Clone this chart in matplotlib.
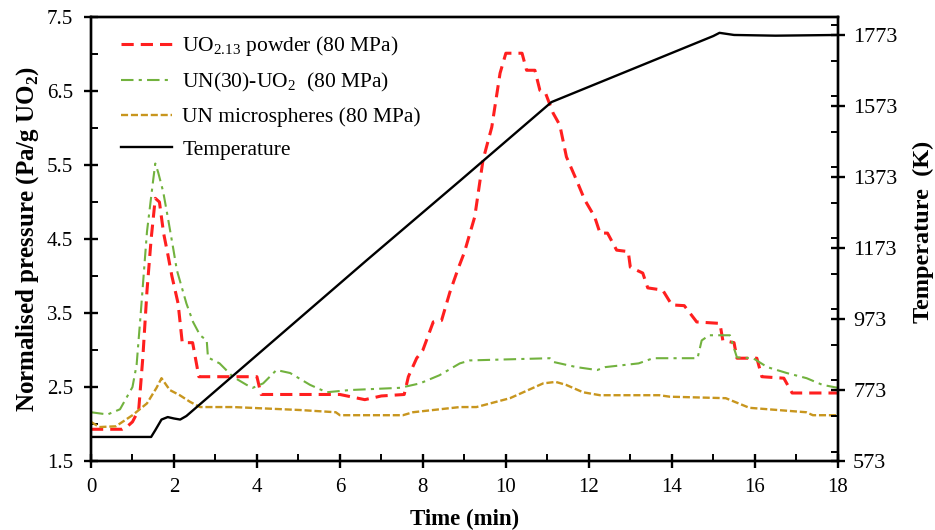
import numpy as np
import matplotlib
matplotlib.use("Agg")
import matplotlib.pyplot as plt
from matplotlib.ticker import MultipleLocator
from matplotlib.lines import Line2D

plt.rcParams['font.family'] = ['Liberation Serif', 'DejaVu Serif']
plt.rcParams['mathtext.fontset'] = 'custom'
plt.rcParams['mathtext.rm'] = 'Liberation Serif'
plt.rcParams['mathtext.bf'] = 'Liberation Serif:bold'

# UO2.13 powder (80 MPa)
t_uo2 = [0, 0.75, 0.9, 1.0, 1.15, 1.25, 1.35, 1.45, 1.55, 1.65, 1.75, 1.85, 1.95, 2.1, 2.2, 2.45, 2.6, 4.0, 4.1,
         6.0, 6.6, 7.0, 7.55, 7.65, 7.85, 8.0, 8.25, 8.45, 8.65, 8.85, 9.0, 9.25, 9.45, 9.66, 9.86, 10.0, 10.39,
         10.5, 10.7, 10.82, 10.95, 11.14, 11.3, 11.46, 11.7, 11.9, 12.14, 12.27, 12.45, 12.67, 12.95, 13.0, 13.3,
         13.42, 13.78, 14.0, 14.3, 14.6, 15.16, 15.23, 15.5, 15.57, 16.05, 16.17, 16.7, 16.9, 18]
p_uo2 = [1.93, 1.93, 1.98, 2.03, 2.19, 2.9, 3.8, 4.5, 5.05, 5.0, 4.58, 4.3, 4.0, 3.63, 3.1, 3.1, 2.64, 2.64, 2.4,
         2.4, 2.33, 2.38, 2.4, 2.64, 2.89, 3.0, 3.38, 3.4, 3.78, 4.1, 4.32, 4.8, 5.57, 6.01, 6.74, 7.01, 7.01,
         6.78, 6.78, 6.51, 6.48, 6.2, 6.04, 5.61, 5.3, 5.03, 4.8, 4.58, 4.58, 4.35, 4.33, 4.12, 4.04,
         3.84, 3.81, 3.61, 3.6, 3.38, 3.36, 3.13, 3.1, 2.89, 2.89, 2.64, 2.62, 2.42, 2.42]

# UN(30)-UO2 (80 MPa)
t_un30 = [0, 0.4, 0.7, 1.0, 1.1, 1.2, 1.35, 1.5, 1.55, 1.62, 1.74, 1.85, 1.98, 2.07, 2.3, 2.46, 2.63, 2.79, 2.82,
          3.1, 3.42, 3.75, 3.9, 4.15, 4.47, 4.8, 5.28, 5.68, 6.24, 7.45, 7.93, 8.4, 8.89, 9.13, 11.06, 11.14,
          11.7, 12.2, 12.4, 13.2, 13.55, 14.62, 14.72, 14.9, 15.4, 15.57, 15.96, 16.3, 16.77, 17.25, 17.63, 18]
p_un30 = [2.16, 2.13, 2.2, 2.5, 2.8, 3.5, 4.6, 5.3, 5.52, 5.4, 5.14, 4.8, 4.38, 4.08, 3.63, 3.38, 3.2, 3.13, 2.9,
          2.82, 2.64, 2.53, 2.49, 2.55, 2.73, 2.69, 2.53, 2.43, 2.46, 2.49, 2.55, 2.66, 2.82, 2.86, 2.89, 2.84,
          2.77, 2.73, 2.77, 2.82, 2.89, 2.89, 3.13, 3.2, 3.2, 2.9, 2.89, 2.77, 2.69, 2.62, 2.53, 2.49]

# UN microspheres (80 MPa)
t_unm = [0, 0.2, 0.6, 1.0, 1.35, 1.58, 1.7, 1.9, 2.14, 2.39, 2.63, 3.43, 5.04, 5.9, 6.0, 7.52, 7.76, 8.89, 9.29,
         10.1, 10.9, 11.2, 11.45, 11.86, 12.27, 13.7, 13.95, 15.3, 15.87, 17.24, 17.4, 18]
p_unm = [2.03, 1.96, 1.97, 2.12, 2.28, 2.49, 2.62, 2.46, 2.39, 2.3, 2.23, 2.23, 2.19, 2.16, 2.12, 2.12, 2.16, 2.23,
         2.23, 2.35, 2.55, 2.57, 2.53, 2.43, 2.39, 2.39, 2.37, 2.35, 2.22, 2.16, 2.12, 2.12]

# temperature (K)
t_temp = [0, 1.45, 1.55, 1.7, 1.85, 2.0, 2.15, 2.3, 6.65, 8.89, 11.1, 15.0, 15.15, 15.5, 16.5, 18]
temp = [641, 641, 660, 690, 697, 693, 690, 700, 1139, 1362, 1584, 1770, 1779, 1773, 1771, 1773]

red = '#ff1f1f'
green = '#72b23e'
gold = '#c8961e'

fig = plt.figure(figsize=(9.35, 5.3), dpi=100)
ax = fig.add_axes([0.0973, 0.130, 0.7987, 0.838])
ax2 = ax.twinx()

ax.plot(t_uo2, p_uo2, color=red, lw=2.2, ls=(0, (4, 2.3)))
ax.plot(t_un30, p_un30, color=green, lw=1.5, ls=(0, (6, 2.5, 1.5, 2.5)))
ax.plot(t_unm, p_unm, color=gold, lw=1.7, ls=(0, (3, 1.2)))
ax2.plot(t_temp, temp, color='black', lw=1.7)

ax.set_xlim(0, 18)
ax.set_ylim(1.5, 7.5)
ax2.set_ylim(573, 573 + 444 / 0.355)
ax.xaxis.set_major_locator(MultipleLocator(2))
ax.xaxis.set_minor_locator(MultipleLocator(1))
ax.yaxis.set_minor_locator(MultipleLocator(0.5))
ax.set_yticks([1.5, 2.5, 3.5, 4.5, 5.5, 6.5, 7.5])
ax.set_yticklabels(['1.5', '2.5', '3.5', '4.5', '5.5', '6.5', '7.5'])
ax2.set_yticks([573, 773, 973, 1173, 1373, 1573, 1773])
ax2.yaxis.set_minor_locator(MultipleLocator(100))

for a in (ax, ax2):
    for s in a.spines.values():
        s.set_linewidth(1.7)
    a.tick_params(which='major', direction='inout', length=10, width=1.7, labelsize=15, colors='black')
    a.tick_params(which='minor', direction='in', length=5, width=1.4)
ax.tick_params(axis='x', pad=7)
ax2.tick_params(axis='y', pad=6, labelsize=16)
ax.tick_params(axis='y', pad=8)

ax.set_xlabel('Time (min)', fontsize=16.5, fontweight='bold', labelpad=9)
ax.set_ylabel('Normalised pressure (Pa/g UO$_\\mathbf{2}$)', fontsize=18, fontweight='bold', labelpad=4)
ax2.set_ylabel('Temperature  (K)', fontsize=17.5, fontweight='bold')
ax2.yaxis.set_label_coords(1.1, 0.515)

handles = [
    Line2D([], [], color=red, lw=2.2, ls=(0, (4, 2.3))),
    Line2D([], [], color=green, lw=1.5, ls=(0, (6, 2.5, 1.5, 2.5))),
    Line2D([], [], color=gold, lw=1.7, ls=(0, (3, 1.2))),
    Line2D([], [], color='black', lw=1.7),
]
labels = ['UO$_{2.13}$ powder (80 MPa)', 'UN(30)-UO$_2$  (80 MPa)',
          'UN microspheres (80 MPa)', 'Temperature']
ax.legend(handles, labels, loc='upper left', frameon=False, fontsize=15.5,
          handlelength=2.4, handletextpad=0.45, labelspacing=0.6,
          bbox_to_anchor=(0.014, 1.005))

fig.savefig('out.png', dpi=100)
